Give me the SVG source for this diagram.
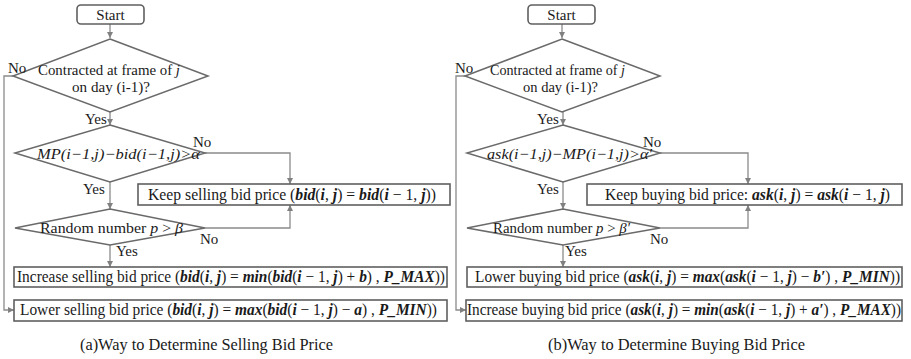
<svg xmlns="http://www.w3.org/2000/svg" width="911" height="359" viewBox="0 0 911 359">
<defs>
<marker id="ah" markerWidth="6" markerHeight="6" refX="6" refY="3" orient="auto" markerUnits="userSpaceOnUse">
<path d="M0,0 L6,3 L0,6 z" fill="#808080"/>
</marker>
<style>
.bg{fill:#ffffff}
.box{fill:#ffffff;stroke:#5f5f5f;stroke-width:1.6}
.dia{fill:#ffffff;stroke:#6a6a6a;stroke-width:1.5}
.con{fill:none;stroke:#8a8a8a;stroke-width:1.3;marker-end:url(#ah)}
.t{font-family:"Liberation Serif","Times New Roman",serif;fill:#1a1a1a}
.s15{font-size:15px}
.s16{font-size:16px}
.cap{font-size:17px}
.i{font-style:italic}
.m{font-style:italic;font-weight:bold}
</style>
</defs>
<rect class="bg" x="0" y="0" width="911" height="359"/>

<g id="connectors">
<path class="con" d="M110,24 V38"/>
<path class="con" d="M13,76 H4 V310 H14"/>
<path class="con" d="M110,112 V125"/>
<path class="con" d="M205,153 H290 V184"/>
<path class="con" d="M110,182 V209"/>
<path class="con" d="M205,228 H290 V205"/>
<path class="con" d="M110,245 V267"/>

<path class="con" d="M562,24 V38"/>
<path class="con" d="M465,76 H456 V310 H466"/>
<path class="con" d="M563,112 V125"/>
<path class="con" d="M660,153 H748 V184"/>
<path class="con" d="M563,182 V209"/>
<path class="con" d="M660,228 H748 V205"/>
<path class="con" d="M563,245 V267"/>
</g>

<g id="a-start">
<rect class="box" x="77" y="5" width="67" height="19" rx="4"/>
<text class="t s15" x="110.5" y="19.5" text-anchor="middle">Start</text>
</g>
<g id="a-contracted">
<polygon class="dia" points="110,39 208,76 110,112 13,76"/>
<text class="t s15" x="38" y="75" textLength="142" lengthAdjust="spacingAndGlyphs">Contracted at frame of <tspan class="i">j</tspan></text>
<text class="t s15" x="72" y="92" textLength="78" lengthAdjust="spacingAndGlyphs">on day (i-1)?</text>
</g>
<g id="a-cond1">
<polygon class="dia" points="110,125 205,153 110,182 15,153"/>
<text class="t s15 i" x="37" y="159" textLength="163" lengthAdjust="spacingAndGlyphs">MP(i−1,j)−bid(i−1,j)&gt;α</text>
</g>
<g id="a-keep">
<rect class="box" x="138" y="184" width="312" height="21"/>
<text class="t s16" x="148" y="200" textLength="288" lengthAdjust="spacingAndGlyphs">Keep selling bid price (<tspan class="m">bid</tspan>(<tspan class="m">i</tspan>, <tspan class="m">j</tspan>) = <tspan class="m">bid</tspan>(<tspan class="m">i</tspan> − 1, <tspan class="m">j</tspan>))</text>
</g>
<g id="a-random">
<polygon class="dia" points="110,209 205,228 110,245 15,228"/>
<text class="t s15" x="40" y="233" textLength="143" lengthAdjust="spacingAndGlyphs">Random number <tspan class="i">p</tspan> &gt; <tspan class="i">β</tspan></text>
</g>
<g id="a-increase">
<rect class="box" x="14" y="267" width="433" height="20"/>
<text class="t s16" x="17" y="282" textLength="428" lengthAdjust="spacingAndGlyphs">Increase selling bid price (<tspan class="m">bid</tspan>(<tspan class="m">i</tspan>, <tspan class="m">j</tspan>) = <tspan class="m">min</tspan>(<tspan class="m">bid</tspan>(<tspan class="m">i</tspan> − 1, <tspan class="m">j</tspan>) + <tspan class="m">b</tspan>) , <tspan class="m">P_MAX</tspan>))</text>
</g>
<g id="a-lower">
<rect class="box" x="14" y="300" width="433" height="21"/>
<text class="t s16" x="20" y="315" textLength="417" lengthAdjust="spacingAndGlyphs">Lower selling bid price (<tspan class="m">bid</tspan>(<tspan class="m">i</tspan>, <tspan class="m">j</tspan>) = <tspan class="m">max</tspan>(<tspan class="m">bid</tspan>(<tspan class="m">i</tspan> − 1, <tspan class="m">j</tspan>) − <tspan class="m">a</tspan>) , <tspan class="m">P_MIN</tspan>))</text>
</g>
<g id="a-labels">
<text class="t s15" x="8" y="73">No</text>
<text class="t s15" x="85" y="124">Yes</text>
<text class="t s15" x="193" y="147">No</text>
<text class="t s15" x="83" y="194">Yes</text>
<text class="t s15" x="200" y="244">No</text>
<text class="t s15" x="116" y="256">Yes</text>
</g>
<g id="a-caption">
<text class="t cap" x="80" y="350" textLength="253" lengthAdjust="spacingAndGlyphs">(a)Way to Determine Selling Bid Price</text>
</g>

<g id="b-start">
<rect class="box" x="528" y="5" width="67" height="19" rx="4"/>
<text class="t s15" x="561.5" y="19.5" text-anchor="middle">Start</text>
</g>
<g id="b-contracted">
<polygon class="dia" points="562,39 660,76 562,112 465,76"/>
<text class="t s15" x="490" y="75" textLength="135" lengthAdjust="spacingAndGlyphs">Contracted at frame of <tspan class="i">j</tspan></text>
<text class="t s15" x="523" y="92" textLength="75" lengthAdjust="spacingAndGlyphs">on day (i-1)?</text>
</g>
<g id="b-cond1">
<polygon class="dia" points="563,125 660,153 563,182 467,153"/>
<text class="t s15 i" x="487" y="159" textLength="165" lengthAdjust="spacingAndGlyphs">ask(i−1,j)−MP(i−1,j)&gt;α′</text>
</g>
<g id="b-keep">
<rect class="box" x="587" y="184" width="315" height="21"/>
<text class="t s16" x="605" y="200" textLength="285" lengthAdjust="spacingAndGlyphs">Keep buying bid price: <tspan class="m">ask</tspan>(<tspan class="m">i</tspan>, <tspan class="m">j</tspan>) = <tspan class="m">ask</tspan>(<tspan class="m">i</tspan> − 1, <tspan class="m">j</tspan>)</text>
</g>
<g id="b-random">
<polygon class="dia" points="563,209 660,228 563,245 467,228"/>
<text class="t s15" x="493" y="233" textLength="137" lengthAdjust="spacingAndGlyphs">Random number <tspan class="i">p</tspan> &gt; <tspan class="i">β′</tspan></text>
</g>
<g id="b-lower">
<rect class="box" x="467" y="267" width="435" height="20"/>
<text class="t s16" x="475" y="282" textLength="425" lengthAdjust="spacingAndGlyphs">Lower buying bid price (<tspan class="m">ask</tspan>(<tspan class="m">i</tspan>, <tspan class="m">j</tspan>) = <tspan class="m">max</tspan>(<tspan class="m">ask</tspan>(<tspan class="m">i</tspan> − 1, <tspan class="m">j</tspan>) − <tspan class="m">b′</tspan>) , <tspan class="m">P_MIN</tspan>))</text>
</g>
<g id="b-increase">
<rect class="box" x="466" y="300" width="436" height="21"/>
<text class="t s16" x="467" y="315" textLength="434" lengthAdjust="spacingAndGlyphs">Increase buying bid price (<tspan class="m">ask</tspan>(<tspan class="m">i</tspan>, <tspan class="m">j</tspan>) = <tspan class="m">min</tspan>(<tspan class="m">ask</tspan>(<tspan class="m">i</tspan> − 1, <tspan class="m">j</tspan>) + <tspan class="m">a′</tspan>) , <tspan class="m">P_MAX</tspan>))</text>
</g>
<g id="b-labels">
<text class="t s15" x="455" y="73">No</text>
<text class="t s15" x="537" y="124">Yes</text>
<text class="t s15" x="643" y="147">No</text>
<text class="t s15" x="537" y="194">Yes</text>
<text class="t s15" x="650" y="244">No</text>
<text class="t s15" x="565" y="256">Yes</text>
</g>
<g id="b-caption">
<text class="t cap" x="548" y="350" textLength="257" lengthAdjust="spacingAndGlyphs">(b)Way to Determine Buying Bid Price</text>
</g>
</svg>
